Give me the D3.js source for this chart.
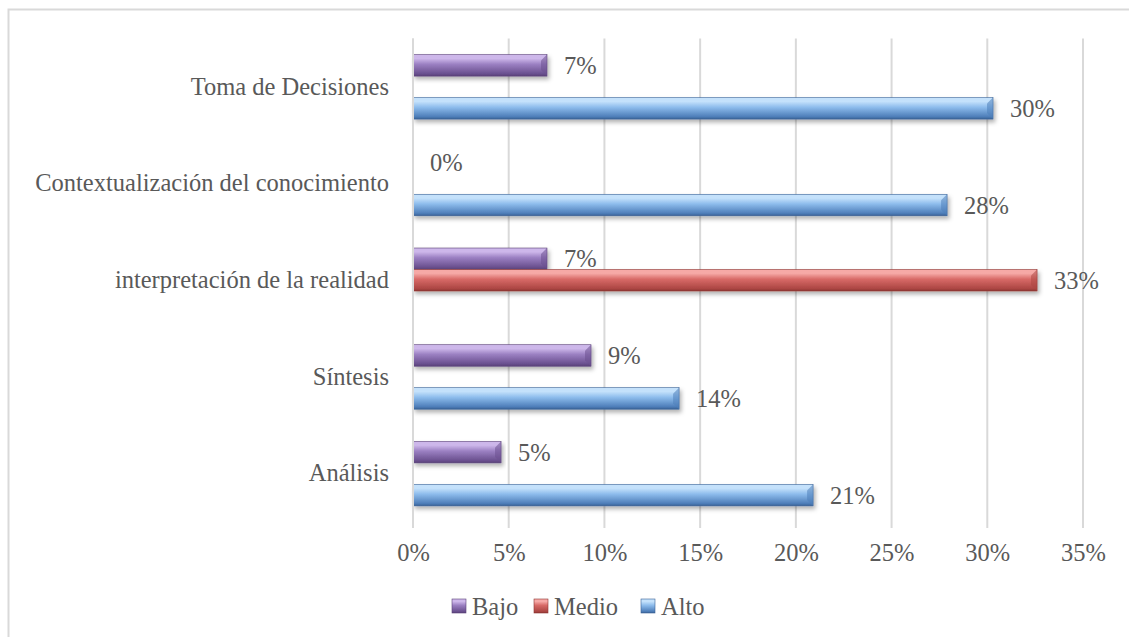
<!DOCTYPE html>
<html>
<head>
<meta charset="utf-8">
<script src="https://cdn.jsdelivr.net/npm/d3@7"></script>
<style>
  html, body { margin: 0; padding: 0; background: #fff; }
  #chart svg { display: block; }
</style>
</head>
<body>
<div id="chart"></div>
<script>
// categories listed top to bottom, as they appear in the chart
const categories = [
    'Toma de Decisiones',
    'Contextualización del conocimiento',
    'interpretación de la realidad',
    'Síntesis',
    'Análisis'
];
const seriesNames = ['Bajo', 'Medio', 'Alto'];
const bajo = [0.07, 0, 0.07, 0.093, 0.046];
const medio = [null, null, 0.326, null, null];
const alto = [0.303, 0.279, null, 0.139, 0.209];
const xTicks = [0, 0.05, 0.10, 0.15, 0.20, 0.25, 0.30, 0.35];

const width = 1129;
const height = 637;
const plotLeft = 413;
const plotRight = 1083;
const plotTop = 38.5;
const plotBottom = 522;
const textColor = '#595959';
const font = '"Liberation Serif", "Times New Roman", serif';
const fontSize = 24.5;

const colors = {
    Bajo:  {top: '#cdb7ea', mid: '#9b80c2', bot: '#6b5190', edge: '#5a4279'},
    Medio: {top: '#f6a9a6', mid: '#d86a67', bot: '#ad4744', edge: '#8f3633'},
    Alto:  {top: '#c4e1fb', mid: '#8dbcec', bot: '#4f7fba', edge: '#3a6296'}
};

const rows = categories.map((c, i) => ({
    category: c,
    values: [
        {series: 'Bajo', value: bajo[i]},
        {series: 'Medio', value: medio[i]},
        {series: 'Alto', value: alto[i]}
    ].filter(d => d.value !== null)
}));

const svg = d3.select('#chart')
    .append('svg')
    .attr('width', width)
    .attr('height', height)
    .attr('viewBox', [0, 0, width, height])
    .style('font-family', font);

// gradients and shadow for the bevelled bars
const defs = svg.append('defs');
seriesNames.forEach(s => {
    const g = defs.append('linearGradient')
        .attr('id', 'grad-' + s)
        .attr('x1', 0).attr('y1', 0).attr('x2', 0).attr('y2', 1);
    g.append('stop').attr('offset', '0%').attr('stop-color', colors[s].top);
    g.append('stop').attr('offset', '18%').attr('stop-color', colors[s].top);
    g.append('stop').attr('offset', '45%').attr('stop-color', colors[s].mid);
    g.append('stop').attr('offset', '88%').attr('stop-color', colors[s].bot);
    g.append('stop').attr('offset', '100%').attr('stop-color', colors[s].edge);
});
defs.append('filter')
    .attr('id', 'shadow')
    .attr('x', '-5%').attr('y', '-30%').attr('width', '110%').attr('height', '180%')
    .append('feDropShadow')
    .attr('dx', 2).attr('dy', 3).attr('stdDeviation', 2)
    .attr('flood-color', '#000').attr('flood-opacity', 0.3);

// chart area border
svg.append('rect')
    .attr('x', 8.5).attr('y', 9.5)
    .attr('width', width + 20).attr('height', height + 20)
    .attr('fill', 'none')
    .attr('stroke', '#d9d9d9')
    .attr('stroke-width', 2);

// scales
const x = d3.scaleLinear()
    .domain([0, 0.35])
    .range([plotLeft, plotRight]);

const y = d3.scaleBand()
    .domain(categories)
    .range([plotTop, plotBottom])
    .paddingInner(1 / 3)
    .paddingOuter(1 / 6);

const ySeries = d3.scaleBand()
    .domain(seriesNames)
    .range([0, y.bandwidth()]);

// vertical gridlines with outside tick marks
svg.append('g')
    .selectAll('line')
    .data(xTicks)
    .join('line')
    .attr('x1', d => x(d)).attr('x2', d => x(d))
    .attr('y1', plotTop).attr('y2', plotBottom + 6)
    .attr('stroke', '#d9d9d9')
    .attr('stroke-width', 2);

// x axis labels
svg.append('g')
    .attr('transform', `translate(0,${plotBottom})`)
    .call(d3.axisBottom(x).tickValues(xTicks).tickFormat(d3.format('.0%')).tickSize(0).tickPadding(22))
    .call(g => g.select('.domain').remove())
    .call(g => g.selectAll('text')
        .attr('fill', textColor)
        .style('font-family', font)
        .style('font-size', fontSize + 'px'));

// category labels
svg.append('g')
    .attr('transform', `translate(${plotLeft},0)`)
    .call(d3.axisLeft(y).tickSize(0).tickPadding(24))
    .call(g => g.select('.domain').remove())
    .call(g => g.selectAll('text')
        .attr('fill', textColor)
        .style('font-family', font)
        .style('font-size', fontSize + 'px'));

// bars
const groups = svg.append('g')
    .selectAll('g')
    .data(rows)
    .join('g')
    .attr('transform', d => `translate(0,${y(d.category)})`);

const bars = groups.selectAll('g')
    .data(d => d.values.filter(v => v.value > 0))
    .join('g')
    .attr('filter', 'url(#shadow)');

bars.append('rect')
    .attr('x', x(0))
    .attr('y', d => ySeries(d.series))
    .attr('width', d => x(d.value) - x(0))
    .attr('height', ySeries.bandwidth())
    .attr('fill', d => `url(#grad-${d.series})`)
    .attr('stroke', d => colors[d.series].edge)
    .attr('stroke-width', 0.6);

// bevel on the bar end
bars.append('path')
    .attr('d', d => {
        const x1 = x(d.value), y0 = ySeries(d.series), h = ySeries.bandwidth(), b = 6;
        return `M${x1},${y0}L${x1},${y0 + h}L${x1 - b},${y0 + h - b}L${x1 - b},${y0 + b}Z`;
    })
    .attr('fill', d => colors[d.series].bot)
    .attr('opacity', 0.55);

// axis line at 0
svg.append('line')
    .attr('x1', x(0)).attr('x2', x(0))
    .attr('y1', plotTop).attr('y2', plotBottom + 6)
    .attr('stroke', '#d9d9d9')
    .attr('stroke-width', 2);

// data labels
groups.selectAll('text')
    .data(d => d.values)
    .join('text')
    .attr('x', d => x(d.value) + 17)
    .attr('y', d => ySeries(d.series) + ySeries.bandwidth() / 2)
    .attr('dy', '0.35em')
    .attr('fill', textColor)
    .style('font-size', fontSize + 'px')
    .text(d => d3.format('.0%')(d.value));

// legend
const legend = svg.append('g')
    .attr('transform', 'translate(452,606)');
const legendX = [0, 82, 189];
const items = legend.selectAll('g')
    .data(seriesNames)
    .join('g')
    .attr('transform', (d, i) => `translate(${legendX[i]},0)`);
items.append('rect')
    .attr('x', 0).attr('y', -7)
    .attr('width', 14).attr('height', 14)
    .attr('fill', d => `url(#grad-${d})`)
    .attr('stroke', d => colors[d].edge)
    .attr('stroke-width', 0.6);
items.append('text')
    .attr('x', 20)
    .attr('dy', '0.35em')
    .attr('fill', textColor)
    .style('font-size', fontSize + 'px')
    .text(d => d);
</script>
</body>
</html>
